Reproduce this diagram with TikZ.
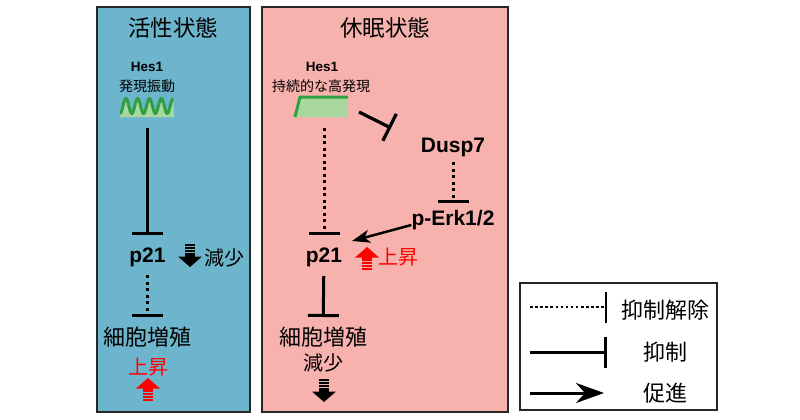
\documentclass[tikz,border=0pt]{standalone}
\usepackage{fontspec}
\setmainfont{Liberation Sans}
\newfontfamily\jp{Noto Sans CJK JP}
\usetikzlibrary{arrows.meta}
\definecolor{actbg}{HTML}{6DB5CC}
\definecolor{dormbg}{HTML}{F7B2AE}
\definecolor{wavegreen}{HTML}{2EA043}
\definecolor{lightgreen}{HTML}{A8D8A0}
\definecolor{upred}{HTML}{FF0000}
\begin{document}
\begin{tikzpicture}[x=1pt,y=-1pt,
  panel/.style={draw=black!85, line width=1.5pt},
  inh/.style={line width=3pt, -{Bar[width=31pt]}},
  dots/.style={dash pattern=on 3pt off 3.5pt},
  act/.style={line width=2.5pt, -{Stealth[length=18pt,width=13pt,inset=5pt]}},
  title/.style={font=\jp\fontsize{22.5}{22.5}\selectfont, inner sep=0},
  gene/.style={font=\bfseries\fontsize{13.5}{13.5}\selectfont, inner sep=0},
  sub/.style={font=\jp\fontsize{14}{14}\selectfont, inner sep=0},
  mol/.style={font=\bfseries\fontsize{21}{21}\selectfont, inner sep=0},
  jpl/.style={font=\jp\fontsize{22}{22}\selectfont, inner sep=0},
  jpm/.style={font=\jp\fontsize{20}{20}\selectfont, inner sep=0},
  sarrow/.pic={
    \fill[#1] (0,0) -- (-12,-10.5) -- (12,-10.5) -- cycle;
    \fill[#1] (-5.2,-10) rectangle (5.2,-13.8);
    \fill[#1] (-4.7,-15.2) rectangle (4.7,-16.9);
    \fill[#1] (-4.7,-18.2) rectangle (4.7,-19.9);
    \fill[#1] (-4.7,-21.2) rectangle (4.7,-22.9);
  }
]
\useasboundingbox (0,0) rectangle (800,420);
\fill[white] (0,0) rectangle (800,420);

% panels
\filldraw[panel, fill=actbg] (97,7) rectangle (250,412);
\filldraw[panel, fill=dormbg] (262,7) rectangle (508,412);

% ---------- active state ----------
\node[title] (tA) at (173,28) {活性状態};
\node[gene] (hesA) at (147,67) {Hes1};
\node[sub] (hesAsub) at (147,86) {発現振動};
\fill[lightgreen] (120,117) -- plot[domain=0:4.5, samples=100] ({120+11.8*\x},{106+7.5*cos(\x*360)}) -- (174,117) -- cycle;
\draw[wavegreen, line width=3pt, line join=round] plot[domain=0:4.5, samples=100] ({120+11.8*\x},{106+7.5*cos(\x*360)});
\node[inner sep=0, minimum width=54pt, minimum height=22pt] (osc) at (147.5,107) {};
\node[mol] (p21A) at (147.5,257) {p21};
\node[jpm] (decA) at (224,258) {減少};
\node[jpl] (cellA) at (147.5,337) {細胞増殖};
\node[jpm, text=upred] (upA) at (148,367) {上昇};
\pic at (190,267) {sarrow=black};
\pic[rotate=180] at (148,378) {sarrow=upred};

\draw[inh, shorten <=21pt, shorten >=22pt] (osc.center) -- (p21A.center);
\draw[inh, dots, shorten <=18pt, shorten >=20pt] (p21A.center) -- (cellA.center);

% ---------- dormant state ----------
\node[title] (tD) at (385,28) {休眠状態};
\node[gene] (hesD) at (322,67) {Hes1};
\node[sub] (hesDsub) at (321,86) {持続的な高発現};
\fill[lightgreen] (295,117) -- (300,97) -- (348,97) -- (348,117) -- cycle;
\draw[wavegreen, line width=3pt, line join=round] (295,117) -- (300,97) -- (348,97);
\node[inner sep=0, minimum width=53pt, minimum height=20pt] (plat) at (324,107) {};
\node[mol] (dusp) at (453,147) {Dusp7};
\node[mol] (perk) at (453,220) {p-Erk1/2};
\node[mol] (p21D) at (324,257) {p21};
\node[jpm, text=upred] (upD) at (398.5,257) {上昇};
\node[jpl] (cellD) at (323,337) {細胞増殖};
\node[jpm] (decD) at (323,363) {減少};
\pic[rotate=180] at (367,247) {sarrow=upred};
\pic at (324,402) {sarrow=black};

\coordinate (hesout) at (359,112);
\coordinate (duspin) at (391,128);
\coordinate (p21in) at (352,241);
\draw[inh, line width=3.2pt, -{Bar[width=30pt]}] (hesout) -- (duspin);
\draw[inh, dots, shorten <=15pt, shorten >=17pt] (dusp.center) -- (perk.center);
\draw[inh, dots, shorten <=21pt, shorten >=22pt] (plat.center) -- (p21D.center);
\draw[act] ([yshift=-5pt]perk.west) -- (p21in);
\draw[inh, shorten <=19pt, shorten >=20pt] (p21D.center) -- (cellD.center);

% ---------- legend ----------
\node[draw=black!85, line width=1.5pt, minimum width=197pt, minimum height=127pt, inner sep=0] (legend) at (618.5,346.5) {};
\node[jpl] (lg1) at (665,310) {抑制解除};
\node[jpl] (lg2) at (665,352) {抑制};
\node[jpl] (lg3) at (665,393) {促進};
\coordinate (l1a) at (530,307);
\coordinate (l1b) at (607,307);
\coordinate (l2a) at (530,352);
\coordinate (l2b) at (607,352);
\coordinate (l3a) at (530,393);
\coordinate (l3b) at (604,393);
\draw[line width=2.5pt, dash pattern=on 2.5pt off 2.6pt, -{Bar[width=31pt]}] (l1a) -- (l1b);
\draw[inh] (l2a) -- (l2b);
\draw[line width=3pt, -{Stealth[length=28pt,width=20pt,inset=9pt]}] (l3a) -- (l3b);
\end{tikzpicture}
\end{document}
